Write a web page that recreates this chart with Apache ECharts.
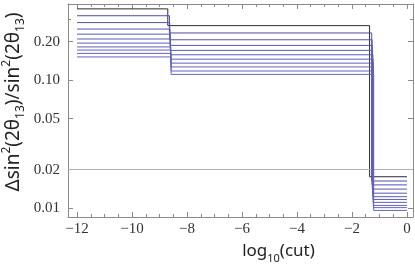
<!DOCTYPE html>
<html>
<head>
<meta charset="utf-8">
<script src="https://cdn.jsdelivr.net/npm/echarts@6/dist/echarts.min.js"></script>
<style>
html,body{margin:0;padding:0;background:#fff;}
#chart{width:415px;height:277px;}
</style>
</head>
<body>
<div id="chart"></div>
<script>
// ---- data ----
const xStart = -12;
const xEnd = 0;
// x position of the first and second step for each curve
const jump1 = [-8.70, -8.64, -8.63, -8.62, -8.61, -8.60, -8.60, -8.59, -8.59, -8.58, -8.58];
const jump2 = [-1.36, -1.28, -1.27, -1.26, -1.25, -1.24, -1.23, -1.23, -1.22, -1.22, -1.21];
// plateau levels of each curve
const levelLeft   = [0.361, 0.319, 0.282, 0.251, 0.229, 0.210, 0.195, 0.182, 0.172, 0.162, 0.152];
const levelMiddle = [0.267, 0.234, 0.207, 0.187, 0.171, 0.158, 0.146, 0.136, 0.127, 0.118, 0.111];
const levelRight  = [0.0176, 0.0163, 0.0152, 0.0141, 0.0131, 0.0123, 0.0117, 0.0111, 0.0105, 0.0101, 0.0096];
const refLevel = 0.02;
const xMajorTicks = [-12, -10, -8, -6, -4, -2, 0];
const xMinorTicks = [-12, -11.5, -11, -10.5, -10, -9.5, -9, -8.5, -8, -7.5, -7, -6.5, -6, -5.5, -5, -4.5, -4, -3.5, -3, -2.5, -2, -1.5, -1, -0.5, 0];
const yMajorTicks = [0.01, 0.02, 0.05, 0.1, 0.2];
const yMinorTicks = [0.3];

// ---- chart ----
const colors = ['#2b2b36','#4c4ca8','#5252ae','#5656b2','#5a5ab6','#5c5cb8','#5e5eba','#6060bc','#6262be','#6464c0','#6666c2'];
const xMin = -12.33, xMax = 0.22, yMin = 0.00853, yMax = 0.394;
const frameColor = '#8a8a8a';
const labelFont = {fontFamily: 'Liberation Serif', fontSize: 15, color: '#333'};
const nameFont = 'Noto Sans';

function richStyles(size, lh) {
  return {
    m:   {fontFamily: nameFont, fontSize: size, color: '#222', lineHeight: lh, verticalAlign: 'middle'},
    sub: {fontFamily: nameFont, fontSize: Math.round(size * 0.62), color: '#222', lineHeight: 12, verticalAlign: 'bottom'},
    sup: {fontFamily: nameFont, fontSize: Math.round(size * 0.62), color: '#222', lineHeight: 18, verticalAlign: 'top'}
  };
}

function xAxisDef(pos, ticks, len, withLabels, showLine) {
  return {
    type: 'value', position: pos, min: xMin, max: xMax,
    axisLine: {show: showLine, onZero: false, lineStyle: {color: frameColor, width: 1}},
    axisTick: {show: true, inside: true, length: len, customValues: ticks, lineStyle: {color: frameColor}},
    axisLabel: withLabels ? Object.assign({show: true, customValues: xMajorTicks, margin: 5,
      formatter: v => String(v).replace('-', '\u2212')}, labelFont) : {show: false},
    splitLine: {show: false},
    name: (withLabels ? '{m|log}{sub|10}{m|(cut)}' : ''),
    nameLocation: 'middle', nameGap: 21,
    nameTextStyle: {padding: [0, 0, 0, 76], rich: richStyles(17, 26)}
  };
}
function yAxisDef(pos, ticks, len, withLabels, showLine) {
  return {
    type: 'log', position: pos, min: yMin, max: yMax, logBase: 10,
    axisLine: {show: showLine, onZero: false, lineStyle: {color: frameColor, width: 1}},
    axisTick: {show: true, inside: true, length: len, customValues: ticks, lineStyle: {color: frameColor}},
    axisLabel: withLabels ? Object.assign({show: true, customValues: yMajorTicks, margin: 8,
      formatter: v => Number(v).toFixed(2)}, labelFont) : {show: false},
    splitLine: {show: false},
    name: (withLabels ? '{m|\u0394sin}{sup|2}{m|(2\u03b8}{sub|13}{m|)/sin}{sup|2}{m|(2\u03b8}{sub|13}{m|)}' : ''),
    nameLocation: 'middle', nameGap: 41, nameRotate: 90, nameMoveOverlap: false,
    nameTextStyle: {padding: [0, 0, 0, 17], rich: richStyles(19, 26)}
  };
}

const series = levelLeft.map((a, i) => ({
  type: 'line',
  xAxisIndex: 0, yAxisIndex: 0,
  showSymbol: false, symbol: 'none',
  lineStyle: {width: 1, color: colors[i]},
  itemStyle: {color: colors[i]},
  data: [
    [xStart, a], [jump1[i], a], [jump1[i], levelMiddle[i]],
    [jump2[i], levelMiddle[i]], [jump2[i], levelRight[i]], [xEnd, levelRight[i]]
  ],
  z: 3 + i
}));
series.push({
  type: 'line', xAxisIndex: 0, yAxisIndex: 0, symbol: 'none', data: [],
  markLine: {
    silent: true, symbol: ['none', 'none'], label: {show: false},
    lineStyle: {color: '#b0b0b0', width: 1.2, type: 'solid'},
    data: [{yAxis: refLevel}]
  },
  z: 2
});

const chart = echarts.init(document.getElementById('chart'), null, {renderer: 'canvas'});
chart.setOption({
  animation: false,
  backgroundColor: '#fff',
  grid: {left: 68, right: 2, top: 4, bottom: 60, containLabel: false, outerBoundsMode: 'none'},
  xAxis: [
    xAxisDef('bottom', xMajorTicks, 5, true, true),
    xAxisDef('bottom', xMinorTicks, 3, false, false),
    xAxisDef('top', xMajorTicks, 5, false, true),
    xAxisDef('top', xMinorTicks, 3, false, false)
  ],
  yAxis: [
    yAxisDef('left', yMajorTicks, 5, true, true),
    yAxisDef('left', yMinorTicks, 3, false, false),
    yAxisDef('right', yMajorTicks, 5, false, true),
    yAxisDef('right', yMinorTicks, 3, false, false)
  ],
  series: series
});
</script>
</body>
</html>
